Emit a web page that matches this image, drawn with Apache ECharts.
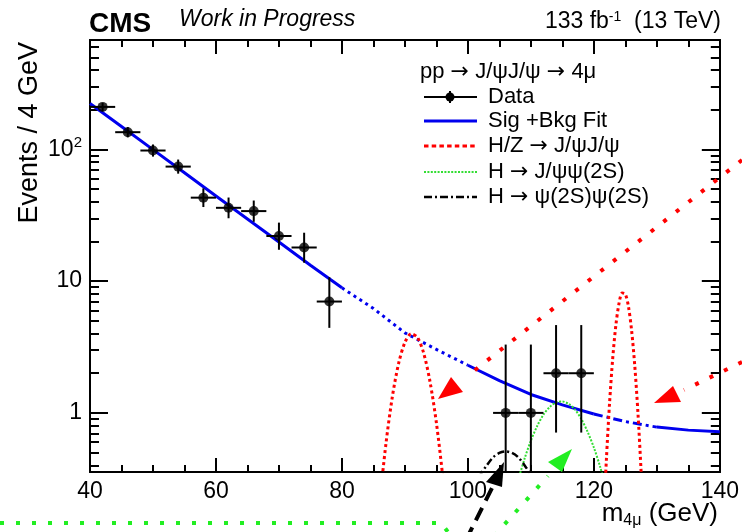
<!DOCTYPE html>
<html lang="en">
<head>
    <meta charset="UTF-8">
    <title>H/Z to J/psi J/psi</title>
    <script src="https://cdn.jsdelivr.net/npm/echarts@6/dist/echarts.min.js"></script>
</head>
<body style="margin:0">
<div id="main" style="width:742px;height:532px;"></div>
<script type="text/javascript">
// data points (4 GeV bins)
var binCenters = [42, 46, 50, 54, 58, 62, 66, 70, 74, 78, 106, 110, 114, 118];
var dataCounts = [210, 135, 98, 74, 43, 36, 34, 22, 18, 7, 1, 1, 2, 2];
var errLow  = [195.5, 123.4, 88.1, 65.4, 36.5, 30.0, 28.2, 17.3, 13.8, 4.42, 0.173, 0.173, 0.709, 0.709];
var errHigh = [225.5, 147.7, 108.9, 83.7, 50.6, 43.1, 40.9, 27.8, 23.3, 10.71, 3.30, 3.30, 4.64, 4.64];
var binHalf = 2;

// sig + bkg fit
var fitX = [40, 45, 50, 55, 60, 65, 70, 75, 80, 85, 90, 95, 100, 105, 110, 115, 120, 125, 130, 135, 140];
var fitY = [223, 149, 99.5, 66.4, 44.3, 29.6, 19.8, 13.2, 8.9, 6.2, 4.05, 3.03, 2.3, 1.76, 1.38, 1.15, 0.98, 0.86, 0.78, 0.74, 0.72];

// H/Z -> J/psi J/psi
var zX = [86, 87, 88, 89, 90, 91, 92, 93, 94, 95, 96, 97];
var zY = [0.215, 0.59, 1.32, 2.37, 3.42, 3.98, 3.73, 2.82, 1.71, 0.84, 0.33, 0.105];
var hX = [121, 121.5, 122, 122.5, 123, 123.5, 124, 124.5, 125, 125.5, 126, 126.5, 127, 127.5, 128];
var hY = [0.035, 0.14, 0.45, 1.2, 2.61, 4.65, 6.79, 8.12, 7.96, 6.39, 4.2, 2.27, 1.0, 0.36, 0.107];

// H -> J/psi psi(2S)
var gX = [108, 109, 110, 111, 112, 113, 114, 115, 116, 117, 118, 119, 120, 121, 122];
var gY = [0.31, 0.45, 0.615, 0.795, 0.97, 1.11, 1.2, 1.22, 1.17, 1.06, 0.90, 0.72, 0.546, 0.39, 0.26];

// H -> psi(2S) psi(2S)
var kX = [100, 101, 102, 103, 104, 105, 106, 107, 108, 109, 110, 111, 112];
var kY = [0.2, 0.267, 0.34, 0.40, 0.46, 0.497, 0.51, 0.497, 0.46, 0.40, 0.34, 0.267, 0.2];

var yMajor = [1, 10, 100];
var yMinor = [0.4, 0.5, 0.6, 0.7, 0.8, 0.9, 2, 3, 4, 5, 6, 7, 8, 9, 20, 30, 40, 50, 60, 70, 80, 90, 200, 300, 400, 500, 600];

var FONT = 'Liberation Sans';

function pairs(xs, ys) {
    var out = [];
    for (var i = 0; i < xs.length; i++) out.push([xs[i], ys[i]]);
    return out;
}
function fitPart(a, b) {
    var out = [];
    for (var i = 0; i < fitX.length; i++) {
        if (fitX[i] >= a && fitX[i] <= b) out.push([fitX[i], fitY[i]]);
    }
    return out;
}

var points = [], bars = [];
for (var i = 0; i < binCenters.length; i++) {
    points.push([binCenters[i], dataCounts[i]]);
    bars.push([binCenters[i], dataCounts[i], errLow[i], errHigh[i], binCenters[i] - binHalf, binCenters[i] + binHalf]);
}

function errItem(params, api) {
    var x = api.value(0), y = api.value(1);
    var lo = api.coord([x, api.value(2)]);
    var hi = api.coord([x, api.value(3)]);
    var l = api.coord([api.value(4), y]);
    var r = api.coord([api.value(5), y]);
    var st = {stroke: '#000', lineWidth: 2};
    return {
        type: 'group',
        children: [
            {type: 'line', shape: {x1: lo[0], y1: lo[1], x2: hi[0], y2: hi[1]}, style: st},
            {type: 'line', shape: {x1: l[0], y1: l[1], x2: r[0], y2: r[1]}, style: st}
        ]
    };
}

function xAx(pos) {
    return {
        type: 'value', min: 40, max: 140, interval: 20, position: pos,
        axisLine: {show: true, onZero: false, lineStyle: {color: '#000', width: 2}},
        axisTick: {show: true, inside: true, length: 14, lineStyle: {color: '#000', width: 2}},
        minorTick: {show: true, splitNumber: 4, length: 7, lineStyle: {color: '#000', width: 2}},
        axisLabel: {show: pos === 'bottom', margin: 8, color: '#000', fontSize: 23, fontFamily: FONT},
        splitLine: {show: false}
    };
}
function yAx(pos, major) {
    return {
        type: 'log', logBase: 10, min: 0.356, max: 676, position: pos,
        axisLine: {show: true, onZero: false, lineStyle: {color: '#000', width: 2}},
        axisTick: {show: true, inside: true, length: major ? 18 : 9, customValues: major ? yMajor : yMinor,
            lineStyle: {color: '#000', width: 2}},
        axisLabel: {
            show: major && pos === 'left', customValues: yMajor, margin: 8, color: '#000',
            fontSize: 23, fontFamily: FONT, lineHeight: 28,
            formatter: function (v) {
                var r = Math.round(v);
                if (r >= 100) return '10{sup|2}';
                return String(r);
            },
            rich: {sup: {fontSize: 15, fontFamily: FONT, color: '#000', verticalAlign: 'top', lineHeight: 28}}
        },
        splitLine: {show: false},
        minorTick: {show: false}
    };
}

var arrowRich = {a: {fontSize: 22, fontFamily: 'DejaVu Sans', fill: '#000'}};
function legendRow(y, label) {
    return {type: 'text', x: 488, y: y, style: {text: label, fontSize: 22, fontFamily: FONT, fill: '#000', verticalAlign: 'middle', rich: arrowRich}};
}

var myChart = echarts.init(document.getElementById('main'));
var option = {
    animation: false,
    backgroundColor: '#fff',
    grid: {left: 90, right: 22, top: 40, bottom: 60},
    xAxis: [xAx('bottom'), xAx('top')],
    yAxis: [yAx('left', true), yAx('left', false), yAx('right', true), yAx('right', false)],
    series: [
        {name: 'fit', type: 'line', data: fitPart(40, 80), showSymbol: false, lineStyle: {color: '#0000ee', width: 3}},
        {name: 'fit', type: 'line', data: fitPart(80, 100), showSymbol: false, lineStyle: {color: '#0000ee', width: 3, type: [3, 4]}},
        {name: 'fit', type: 'line', data: fitPart(100, 120), showSymbol: false, lineStyle: {color: '#0000ee', width: 3}},
        {name: 'fit', type: 'line', data: fitPart(120, 130), showSymbol: false, lineStyle: {color: '#0000ee', width: 3, type: [9, 4, 3, 4]}},
        {name: 'fit', type: 'line', data: fitPart(130, 140), showSymbol: false, lineStyle: {color: '#0000ee', width: 3}},
        {name: 'hz', type: 'line', data: pairs(zX, zY), smooth: 0.3, showSymbol: false, lineStyle: {color: '#ff0000', width: 3, type: [3, 3]}},
        {name: 'hz', type: 'line', data: pairs(hX, hY), smooth: 0.3, showSymbol: false, lineStyle: {color: '#ff0000', width: 3, type: [3, 3]}},
        {name: 'jp2s', type: 'line', data: pairs(gX, gY), smooth: 0.3, showSymbol: false, lineStyle: {color: '#33dd33', width: 2, type: [2, 1.5]}},
        {name: 'p2s', type: 'line', data: pairs(kX, kY), smooth: 0.3, showSymbol: false, lineStyle: {color: '#000', width: 2.5, type: [7, 3, 2, 3]}},
        {name: 'Data', type: 'custom', renderItem: errItem, data: bars, clip: true, encode: {x: 0, y: 1}, z: 5},
        {name: 'Data', type: 'scatter', data: points, symbol: 'circle', symbolSize: 10, itemStyle: {color: '#000'}, z: 6}
    ],
    graphic: [
        {type: 'text', x: 89, y: 24, style: {text: 'CMS', fontSize: 28, fontWeight: 'bold', fontFamily: FONT, fill: '#000', verticalAlign: 'middle'}},
        {type: 'text', x: 179, y: 20, style: {text: 'Work in Progress', fontSize: 23, fontStyle: 'italic', fontFamily: FONT, fill: '#000', verticalAlign: 'middle'}},
        {type: 'text', x: 721, y: 22, style: {
            text: '133 fb{sup|-1}  (13 TeV)', fontSize: 23, fontFamily: FONT, fill: '#000', align: 'right', verticalAlign: 'middle',
            rich: {sup: {fontSize: 14, fontFamily: FONT, fill: '#000', verticalAlign: 'top'}}
        }},
        {type: 'text', x: 30, y: 42, rotation: Math.PI / 2, style: {text: 'Events / 4 GeV', fontSize: 27, fontFamily: FONT, fill: '#000', align: 'right', verticalAlign: 'middle'}},
        {type: 'text', x: 718, y: 514, style: {
            text: 'm{sub|4μ} (GeV)', fontSize: 26, fontFamily: FONT, fill: '#000', align: 'right', verticalAlign: 'middle',
            rich: {sub: {fontSize: 16, fontFamily: FONT, fill: '#000', verticalAlign: 'bottom', padding: [14, 0, 0, 0]}}
        }},
        // legend
        {type: 'text', x: 420, y: 72, style: {text: 'pp {a|→} J/ψJ/ψ {a|→} 4μ', fontSize: 22, fontFamily: FONT, fill: '#000', verticalAlign: 'middle', rich: arrowRich}},
        {type: 'line', shape: {x1: 424, y1: 97, x2: 477, y2: 97}, style: {stroke: '#000', lineWidth: 2}},
        {type: 'line', shape: {x1: 450, y1: 91, x2: 450, y2: 103}, style: {stroke: '#000', lineWidth: 2}},
        {type: 'circle', shape: {cx: 450, cy: 97, r: 4.5}, style: {fill: '#000'}},
        legendRow(97, 'Data'),
        {type: 'line', shape: {x1: 424, y1: 121, x2: 477, y2: 121}, style: {stroke: '#0000ee', lineWidth: 3}},
        legendRow(121, 'Sig +Bkg Fit'),
        {type: 'line', shape: {x1: 424, y1: 146, x2: 477, y2: 146}, style: {stroke: '#ff0000', lineWidth: 3, lineDash: [4.5, 3.2]}},
        legendRow(146, 'H/Z {a|→} J/ψJ/ψ'),
        {type: 'line', shape: {x1: 424, y1: 172, x2: 477, y2: 172}, style: {stroke: '#33dd33', lineWidth: 2, lineDash: [2, 1.4]}},
        legendRow(172, 'H {a|→} J/ψψ(2S)'),
        {type: 'line', shape: {x1: 424, y1: 197, x2: 477, y2: 197}, style: {stroke: '#000', lineWidth: 2.5, lineDash: [8, 3, 2, 3]}},
        legendRow(197, 'H {a|→} ψ(2S)ψ(2S)'),
        // arrows drawn over the figure
        {type: 'line', z: 50, shape: {x1: 742, y1: 160, x2: 470, y2: 374}, style: {stroke: '#ff0000', lineWidth: 4, lineDash: [4, 12]}},
        {type: 'polygon', z: 50, shape: {points: [[438, 399], [463, 392], [451, 377]]}, style: {fill: '#ff0000'}},
        {type: 'line', z: 50, shape: {x1: 742, y1: 362, x2: 684, y2: 390}, style: {stroke: '#ff0000', lineWidth: 4, lineDash: [4, 12]}},
        {type: 'polygon', z: 50, shape: {points: [[654, 403], [673, 386], [681, 402]]}, style: {fill: '#ff0000'}},
        {type: 'polyline', z: 50, shape: {points: [[0, 523], [441, 523], [448, 532]]}, style: {stroke: '#22ee22', lineWidth: 4, lineDash: [4, 12]}},
        {type: 'line', z: 50, shape: {x1: 494, y1: 536, x2: 548, y2: 476}, style: {stroke: '#22ee22', lineWidth: 4, lineDash: [4, 12]}},
        {type: 'polygon', z: 50, shape: {points: [[572, 449], [548, 462], [562, 472]]}, style: {fill: '#22ee22'}},
        {type: 'line', z: 50, shape: {x1: 466, y1: 540, x2: 493, y2: 486}, style: {stroke: '#000', lineWidth: 4, lineDash: [14, 8]}},
        {type: 'polygon', z: 50, shape: {points: [[504, 462], [486, 482], [502, 487]]}, style: {fill: '#000'}}
    ]
};
myChart.setOption(option);
</script>
</body>
</html>
